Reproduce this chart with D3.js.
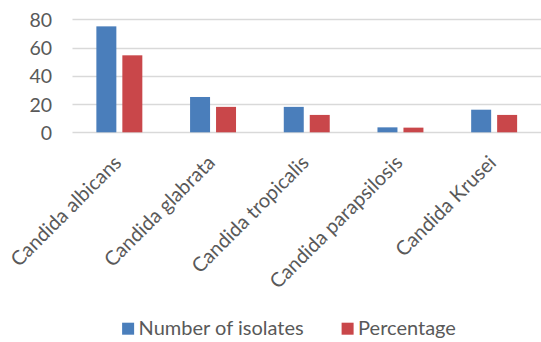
<!DOCTYPE html>
<html>
<head>
<meta charset="utf-8">
<script src="https://cdn.jsdelivr.net/npm/d3@7"></script>
<style>
  html, body { margin: 0; padding: 0; background: #fff; }
  svg { display: block; }
  text { font-family: Lato, "Open Sans", sans-serif; fill: #595959; }
</style>
</head>
<body>
<svg id="chart" width="541" height="342"></svg>
<script>
const categories = ["Candida albicans", "Candida glabrata", "Candida tropicalis", "Candida parapsilosis", "Candida Krusei"];
const seriesNames = ["Number of isolates", "Percentage"];
const isolates = [75, 25, 18, 3.5, 16];
const percentage = [54.5, 18, 12.3, 3.3, 12.3];
const yTicks = [0, 20, 40, 60, 80];
const colors = ["#4a7ebb", "#c9474a"];

const svg = d3.select("#chart");
const W = 541, H = 342;
const plot = { left: 72.5, right: 541, top: 19.3, bottom: 132.3 };

const x0 = d3.scaleBand().domain(categories).range([plot.left, plot.right]).paddingInner(0).paddingOuter(0);
const x1 = d3.scaleBand().domain(seriesNames).range([0, x0.bandwidth()]).paddingInner(0.2308).paddingOuter(0.919);
const y = d3.scaleLinear().domain([0, 80]).range([plot.bottom, plot.top]);

// gridlines
svg.append("g").selectAll("line").data(yTicks).join("line")
  .attr("x1", plot.left).attr("x2", plot.right)
  .attr("y1", d => Math.round(y(d)) + 0.5).attr("y2", d => Math.round(y(d)) + 0.5)
  .attr("stroke", "#d9d9d9").attr("stroke-width", 1.3);

// y axis labels
const yAxis = d3.axisLeft(y).tickValues(yTicks).tickSize(0).tickPadding(0);
const gy = svg.append("g").attr("transform", `translate(52,0)`).call(yAxis);
gy.select(".domain").remove();
gy.selectAll("text").attr("font-size", 19.5).style("fill", "#595959").attr("font-family", "Lato, sans-serif").attr("dy", "0.36em");

// bars
const data = categories.map((c, i) => ({ c, vals: [isolates[i], percentage[i]] }));
const groups = svg.append("g").selectAll("g").data(data).join("g")
  .attr("transform", d => `translate(${x0(d.c)},0)`);
groups.selectAll("rect").data(d => d.vals.map((v, j) => ({ s: seriesNames[j], v, j })))
  .join("rect")
  .attr("x", d => x1(d.s))
  .attr("width", x1.bandwidth())
  .attr("y", d => y(d.v))
  .attr("height", d => y(0) - y(d.v))
  .attr("fill", d => colors[d.j]);

// category labels
svg.append("g").selectAll("text").data(categories).join("text")
  .attr("transform", d => `translate(${x0(d) + x0.bandwidth() / 2 + 3.3},164) rotate(-45)`)
  .attr("text-anchor", "end")
  .attr("font-size", 20)
  .text(d => d);

// legend
const legend = svg.append("g");
const items = legend.selectAll("g").data(seriesNames).join("g");
items.append("rect").attr("width", 12).attr("height", 12).attr("y", 322.7).attr("fill", (d, i) => colors[i]);
items.append("text").attr("x", 16.5).attr("y", 335).attr("font-size", 20).text(d => d);
let xPos = 0;
const positions = [];
items.each(function (d, i) {
  const tw = d3.select(this).select("text").node().getComputedTextLength();
  positions.push(xPos);
  xPos += 16.5 + tw + 38;
});
const total = xPos - 38;
const startX = 289 - total / 2;
items.attr("transform", (d, i) => `translate(${startX + positions[i]},0)`);
</script>
</body>
</html>
